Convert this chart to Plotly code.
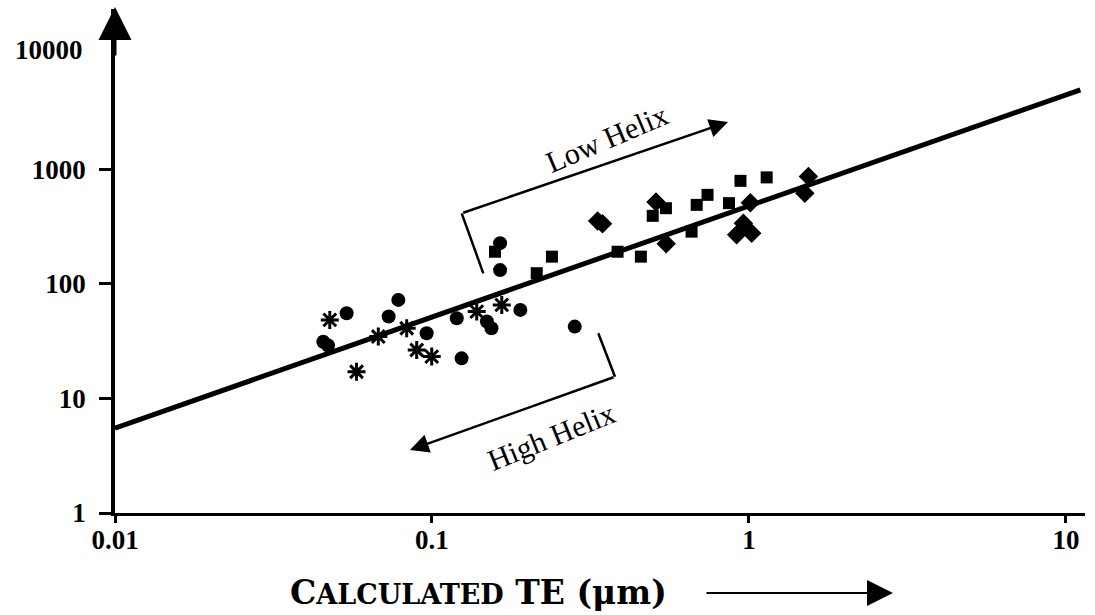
import plotly.graph_objects as go

# ---- data ----
ast_te = [0.0476, 0.0578, 0.0677, 0.0832, 0.0895, 0.0998, 0.1384, 0.166]
ast_val = [48.5, 17.1, 34.7, 41.0, 26.5, 23.2, 57.3, 65.6]

blob_te = [0.0454, 0.0470, 0.0538, 0.0730, 0.0783, 0.0962, 0.1197, 0.124, 0.149, 0.154, 0.190, 0.282, 0.164, 0.164]
blob_val = [31.3, 29.0, 55.5, 52.0, 72.5, 37.1, 50.2, 22.4, 46.9, 41.0, 59.3, 42.4, 132, 227]

sq_te = [0.158, 0.239, 0.214, 0.385, 0.456, 0.497, 0.547, 0.659, 0.684, 0.740, 0.865, 0.940, 1.137]
sq_val = [191, 173, 124, 191, 173, 393, 458, 286, 490, 599, 507, 794, 851]

dia_te = [0.333, 0.345, 0.509, 0.548, 1.01, 0.96, 0.914, 1.02, 1.54, 1.50]
dia_val = [355, 335, 520, 224, 510, 339, 268, 277, 865, 620]

fit_te = [0.01, 11.1]
fit_val = [5.5, 4950]

x_ticks = [0.01, 0.1, 1, 10]
x_ticktext = ["0.01", "0.1", "1", "10"]
y_ticks = [1, 10, 100, 1000]
y_ticktext = ["1", "10", "100", "1000"]

# ---- layout geometry (pixels) ----
W, H = 1095, 615
L, R, T, B = 115, 1085, 9, 513


def px(x):
    return (x - L) / (R - L)


def py(y):
    return (B - y) / (B - T)


fig = go.Figure()
fig.add_trace(go.Scatter(x=fit_te, y=fit_val, mode="lines",
                         line=dict(color="black", width=5), showlegend=False))
fig.add_trace(go.Scatter(x=ast_te, y=ast_val, mode="markers",
                         marker=dict(symbol="asterisk-open", size=15, color="black",
                                     line=dict(color="black", width=3)), showlegend=False))
fig.add_trace(go.Scatter(x=blob_te, y=blob_val, mode="markers",
                         marker=dict(symbol="circle", size=14, color="black"), showlegend=False))
fig.add_trace(go.Scatter(x=sq_te, y=sq_val, mode="markers",
                         marker=dict(symbol="square", size=12, color="black"), showlegend=False))
fig.add_trace(go.Scatter(x=dia_te, y=dia_val, mode="markers",
                         marker=dict(symbol="diamond", size=15, color="black"), showlegend=False))

lblfont = dict(family="Liberation Serif", size=27, color="black", weight="bold")

fig.update_layout(
    width=W, height=H,
    margin=dict(l=L, r=W - R, t=T, b=H - B),
    paper_bgcolor="white", plot_bgcolor="white",
    font=dict(family="Liberation Serif", color="black"),
    xaxis=dict(type="log", range=[-2, 1.06], showgrid=False, zeroline=False,
               showline=True, linecolor="black", linewidth=2.5,
               ticks="outside", ticklen=7, tickwidth=2.5, tickcolor="black",
               tickvals=x_ticks, ticktext=x_ticktext, ticklabelstandoff=-6,
               tickfont=lblfont),
    yaxis=dict(type="log", range=[0, 4.4], showgrid=False, zeroline=False,
               showline=True, linecolor="black", linewidth=3.5,
               ticks="outside", ticklen=12, tickwidth=2.5, tickcolor="black",
               tickvals=y_ticks, ticktext=y_ticktext, ticklabelstandoff=8,
               tickfont=lblfont),
)

ann = []
# y-axis arrow head
ann.append(dict(xref="paper", yref="paper", x=0, y=py(7), ax=0, ay=50, text="",
                showarrow=True, arrowhead=2, arrowsize=2.2, arrowwidth=3, arrowcolor="black"))
# 10000 label (no tick)
ann.append(dict(xref="paper", yref="paper", x=0, y=py(50), xanchor="right", yanchor="middle",
                xshift=-30, text="<b>10000</b>", showarrow=False,
                font=dict(family="Liberation Serif", size=27, color="black")))
# x title
ann.append(dict(xref="paper", yref="paper", x=px(478), y=py(592), xanchor="center", yanchor="middle",
                text="<b>C<span style='font-size:27px'>ALCULATED</span> TE (μm)</b>", showarrow=False,
                font=dict(family="DejaVu Serif", size=33, color="black")))
ann.append(dict(xref="paper", yref="paper", x=px(893), y=py(593), ax=-188, ay=0, text="",
                showarrow=True, arrowhead=2, arrowsize=2.6, arrowwidth=2, arrowcolor="black"))
# Low Helix arrow
ann.append(dict(xref="paper", yref="paper", x=px(728), y=py(122), ax=461.7 - 728, ay=213.3 - 122, text="",
                showarrow=True, arrowhead=2, arrowsize=1.5, arrowwidth=2.5, arrowcolor="black"))
ann.append(dict(xref="paper", yref="paper", x=px(606), y=py(138), xanchor="center", yanchor="middle",
                text="Low Helix", textangle=-23,
                showarrow=False, font=dict(family="Liberation Serif", size=30, color="black")))
# High Helix arrow
ann.append(dict(xref="paper", yref="paper", x=px(410), y=py(450), ax=615 - 410, ay=376.7 - 450, text="",
                showarrow=True, arrowhead=2, arrowsize=1.5, arrowwidth=2.5, arrowcolor="black"))
ann.append(dict(xref="paper", yref="paper", x=px(551), y=py(436), xanchor="center", yanchor="middle",
                text="High Helix", textangle=-22,
                showarrow=False, font=dict(family="Liberation Serif", size=30, color="black")))
fig.update_layout(annotations=ann)

shapes = [
    dict(type="line", xref="paper", yref="paper", x0=px(483.3), y0=py(273.3), x1=px(461.7), y1=py(213.3),
         line=dict(color="black", width=2.5)),
    dict(type="line", xref="paper", yref="paper", x0=px(598.3), y0=py(333.3), x1=px(615), y1=py(376.7),
         line=dict(color="black", width=2.5)),
]
fig.update_layout(shapes=shapes)

fig.write_html("out.html")
